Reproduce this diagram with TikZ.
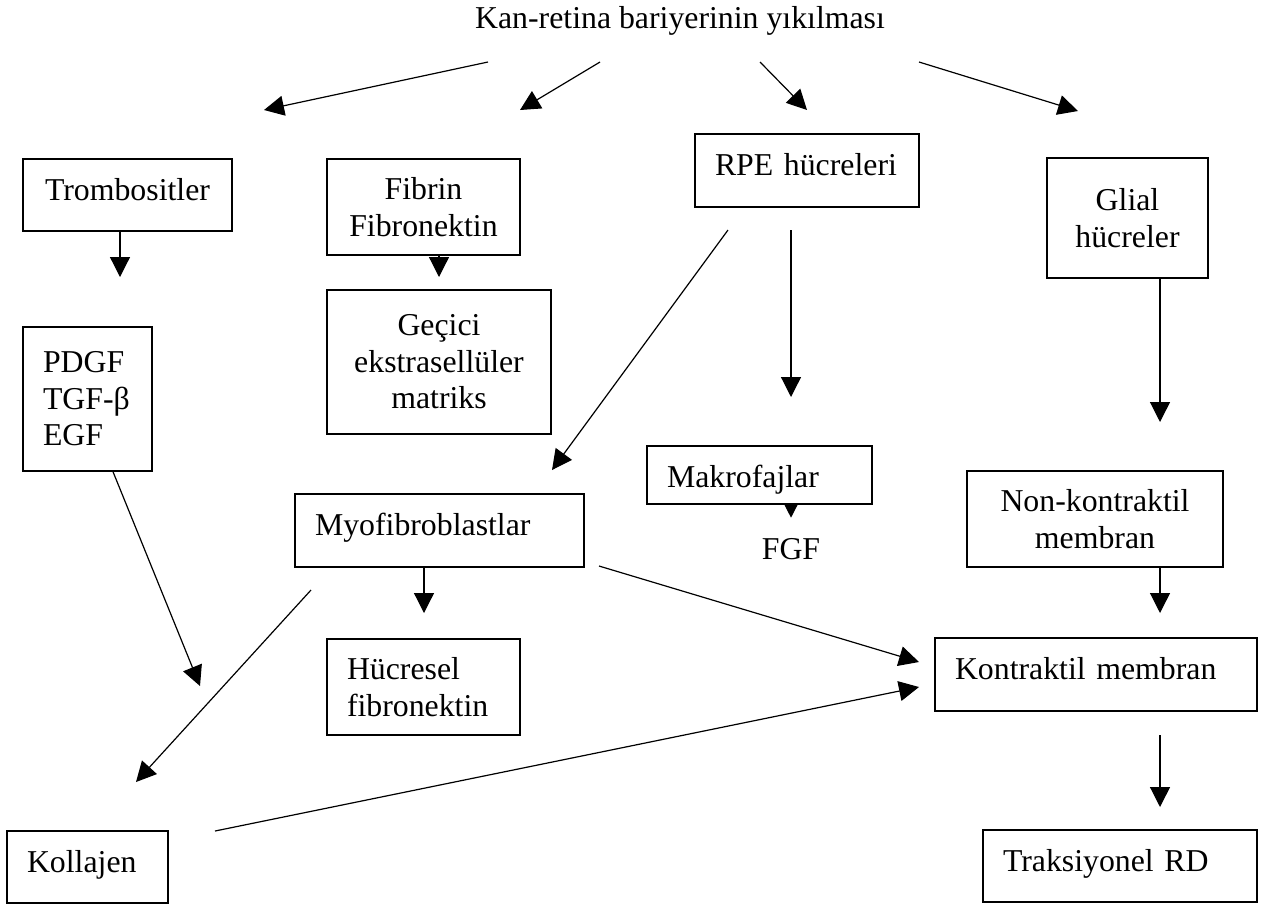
\documentclass[tikz,border=0pt]{standalone}
\usepackage{fontspec}
\setmainfont{Liberation Serif}
\usetikzlibrary{arrows.meta}

\begin{document}
\begin{tikzpicture}[x=0.5pt, y=-0.5pt,
        font=\fontsize{15.9}{18.25}\selectfont,
        box/.style = {draw, line width=0.7pt, inner xsep=10pt, inner ysep=0pt},
        oneline/.style = {text height=11pt, text depth=6pt},
        arr/.style = {line width=0.6pt, -{Triangle[width=10pt, length=10pt]}}]
                \useasboundingbox (0,0) rectangle (1261,907);

                % Title:
                \node [anchor=base] (kan) at (680,28) {Kan-retina bariyerinin yıkılması};

                % Boxes:
                \node [box, oneline, align=center, text width=84.5pt, minimum height=36pt] (trombo) at (127.5,195) {Trombositler};
                \node [box, align=center, text width=76.5pt, minimum height=48pt] (fibrin) at (423.5,207) {Fibrin\\Fibronektin};
                \node [box, align=center, text width=92pt, minimum height=72pt] (gecici) at (439,362) {Geçici\\ekstrasellüler\\matriks};
                \node [box, oneline, align=left, text width=92pt, minimum height=36.5pt] (rpe) at (807,170.5) {RPE hücreleri};
                \node [box, align=center, text width=60.5pt, minimum height=60pt] (glial) at (1127.5,218) {Glial\\hücreler};
                \node [box, align=left, text width=44.5pt, minimum height=72pt] (pdgf) at (87.5,399) {PDGF\\TGF-β\\EGF};
                \node [box, oneline, align=left, text width=124.5pt, minimum height=36.5pt] (myo) at (439.5,530.5) {Myofibroblastlar};
                \node [box, align=left, text width=92.5pt, text height=12pt, text depth=0pt, minimum height=29pt] (makro) at (759.5,475) {Makrofajlar};
                \node [anchor=base] (fgf) at (791,559) {FGF};
                \node [box, align=center, text width=108pt, minimum height=48pt] (nonk) at (1095,519) {Non-kontraktil\\membran};
                \node [box, align=left, text width=76.5pt, minimum height=48pt] (hucre) at (423.5,687) {Hücresel\\fibronektin};
                \node [box, oneline, align=left, text width=141pt, minimum height=36.5pt] (kontr) at (1096,674.5) {Kontraktil membran};
                \node [box, oneline, align=left, text width=60.5pt, minimum height=36pt] (koll) at (87.5,867) {Kollajen};
                \node [box, oneline, align=left, text width=117pt, minimum height=36pt] (traks) at (1120,866) {Traksiyonel RD};

                % Arrows from the title:
                \foreach \n/\sx/\ex/\ey in {1/488/264/110, 2/600/520/110, 3/760/807/110, 4/919/1078/111} {
                    \coordinate (s\n) at (\sx,62);
                    \coordinate (e\n) at (\ex,\ey);
                    \draw [arr] (s\n) -- (e\n);
                }

                % Free ends of the other arrows:
                \coordinate (trombo-end) at (120,277);
                \coordinate (fibrin-end) at (439,277);
                \coordinate (rpe-a) at (728,230);
                \coordinate (myo-in) at (552,470);
                \coordinate (rpe-b) at (791,230);
                \coordinate (makro-in) at (791,397);
                \coordinate (glial-end) at (1160,422);
                \coordinate (pdgf-end) at (200,686);
                \coordinate (hucre-in) at (424,613);
                \coordinate (myo-a) at (311,590);
                \coordinate (koll-in) at (136,782);
                \coordinate (myo-b) at (599,566);
                \coordinate (kontr-in1) at (919,662);
                \coordinate (koll-out) at (215,831);
                \coordinate (kontr-in2) at (919,687);
                \coordinate (nonk-end) at (1160,613);
                \coordinate (kontr-out) at (1160,735);
                \coordinate (traks-in) at (1160,807);

                % Arrows:
                \draw [arr] (trombo.south -| trombo-end) -- (trombo-end);
                \draw [arr] (fibrin.south -| fibrin-end) -- (fibrin-end);
                \draw [arr] (rpe-a) -- (myo-in);
                \draw [arr] (rpe-b) -- (makro-in);
                \draw [arr] (glial.south -| glial-end) -- (glial-end);
                \draw [arr] (pdgf.south -| 113,0) -- (pdgf-end);
                \draw [arr] (myo.south -| hucre-in) -- (hucre-in);
                \draw [arr] (myo-a) -- (koll-in);
                \draw [arr] (myo-b) -- (kontr-in1);
                \draw [arr] (koll-out) -- (kontr-in2);
                \draw [line width=0.6pt, -{Triangle[width=6.5pt, length=6.5pt]}] (makro.south -| fgf) -- ++(0,13);
                \draw [arr] (nonk.south -| nonk-end) -- (nonk-end);
                \draw [arr] (kontr-out) -- (traks-in);
            \end{tikzpicture}
\end{document}
